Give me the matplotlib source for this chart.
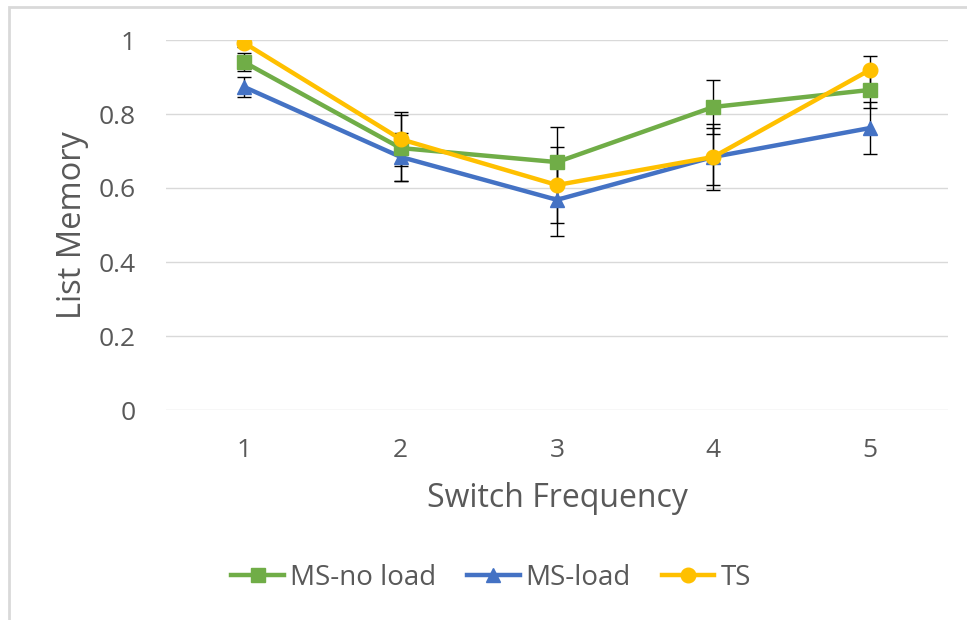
import matplotlib
matplotlib.use("Agg")
from matplotlib import pyplot as plt
from matplotlib.patches import Rectangle
import numpy as np

# data
freq = [1, 2, 3, 4, 5]
ms_no_load = [0.940, 0.708, 0.670, 0.819, 0.865]
ms_no_load_err = [0.025, 0.090, 0.095, 0.073, 0.048]
ms_load = [0.873, 0.684, 0.568, 0.684, 0.762]
ms_load_err = [0.028, 0.065, 0.097, 0.077, 0.070]
ts = [0.992, 0.732, 0.608, 0.684, 0.919]
ts_err = [0.010, 0.073, 0.103, 0.090, 0.038]

text_color = "#595959"
plt.rcParams["font.family"] = ["Open Sans", "DejaVu Sans"]

fig = plt.figure(figsize=(9.67, 6.2), dpi=100)
ax = fig.add_axes([166 / 967, 1 - 410 / 620, 782 / 967, 370 / 620])

series = [
    ("MS-no load", ms_no_load, ms_no_load_err, "#70AD47", "s", 3),
    ("MS-load", ms_load, ms_load_err, "#4472C4", "^", 2),
    ("TS", ts, ts_err, "#FFC000", "o", 4),
]
for label, vals, errs, color, marker, z in series:
    ax.errorbar(freq, vals, yerr=errs, fmt="none", ecolor="black",
                elinewidth=1.0, capsize=5, capthick=1.0, zorder=1.5)
for label, vals, errs, color, marker, z in series:
    ax.plot(freq, vals, color=color, marker=marker, markersize=10.5,
            linewidth=3.2, label=label, zorder=z)

ax.set_xlim(0.5, 5.5)
ax.set_ylim(0, 1)
ax.set_yticks(np.arange(0, 1.01, 0.2))
ax.set_yticklabels(["0", "0.2", "0.4", "0.6", "0.8", "1"])
ax.set_xticks(freq)
ax.grid(axis="y", color="#D9D9D9", linewidth=1.0)
ax.set_axisbelow(True)
for s in ax.spines.values():
    s.set_visible(False)
ax.tick_params(length=0, labelsize=19, colors=text_color)
ax.tick_params(axis="y", pad=22)
ax.tick_params(axis="x", pad=20)

ax.set_xlabel("Switch Frequency", fontsize=23, color=text_color, labelpad=14)
ax.set_ylabel("List Memory", fontsize=23.5, color=text_color, labelpad=7)

fig.legend(loc="center", bbox_to_anchor=(491 / 967, 1 - 578 / 620), ncol=3,
           frameon=False, fontsize=20, handlelength=1.9, handletextpad=0.22,
           columnspacing=1.1, labelcolor=text_color)

fig.patches.append(Rectangle((9 / 967, -0.1), 1.2, 1.1 - 7 / 620,
                             transform=fig.transFigure, fill=False,
                             edgecolor="#D9D9D9", linewidth=2))

fig.savefig("out.png", dpi=100)
